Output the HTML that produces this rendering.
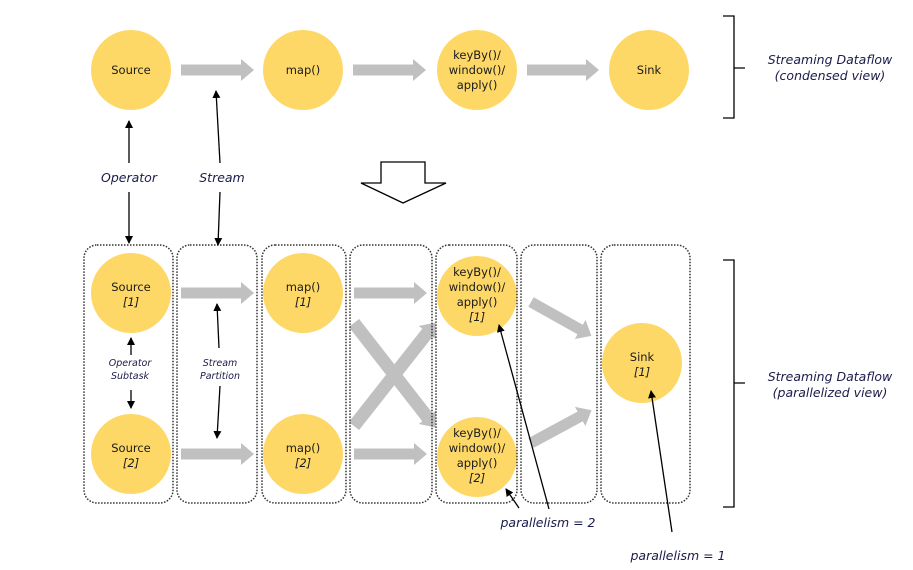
<!DOCTYPE html>
<html><head><meta charset="utf-8"><style>
html,body{margin:0;padding:0;background:#fff;}
svg{display:block;font-family:"DejaVu Sans","Liberation Sans",sans-serif;}
.n{font-size:11.5px;fill:#1a1a1a;text-anchor:middle;}
.i{font-style:italic;}
.l{font-size:12.5px;fill:#1b1b4a;font-style:italic;text-anchor:middle;}
.s{font-size:9.5px;fill:#1b1b4a;font-style:italic;text-anchor:middle;}
.box{fill:none;stroke:#333;stroke-width:1.5;stroke-dasharray:1.5 1.5;}
.g{stroke:#c0c0c0;stroke-width:11;fill:none;}
.k{stroke:#000;stroke-width:1.3;fill:none;}
</style></head><body>
<svg width="913" height="570" viewBox="0 0 913 570">
<defs>
<marker id="gh" markerUnits="userSpaceOnUse" markerWidth="14" markerHeight="22" refX="1" refY="11" orient="auto"><path d="M0,0 L13,11 L0,22 Z" fill="#c0c0c0"/></marker>
<marker id="bh" markerUnits="userSpaceOnUse" markerWidth="8" markerHeight="8" refX="7" refY="4" orient="auto"><path d="M0,0 L8,4 L0,8 Z" fill="#000"/></marker>
</defs>
<g fill="#fed866">
<circle cx="131" cy="70" r="40"/><circle cx="303" cy="70" r="40"/><circle cx="477" cy="70" r="40"/><circle cx="649" cy="70" r="40"/>
<circle cx="131" cy="293" r="40"/><circle cx="131" cy="454" r="40"/><circle cx="303" cy="293" r="40"/><circle cx="303" cy="454" r="40"/>
<circle cx="477" cy="296" r="40"/><circle cx="477" cy="457" r="40"/><circle cx="642" cy="363" r="40"/>
</g>
<!-- top arrows -->
<line class="g" x1="181" y1="70" x2="242" y2="70" marker-end="url(#gh)"/>
<line class="g" x1="353" y1="70" x2="414" y2="70" marker-end="url(#gh)"/>
<line class="g" x1="527" y1="70" x2="587" y2="70" marker-end="url(#gh)"/>
<!-- bottom arrows -->
<line class="g" x1="181" y1="293" x2="242" y2="293" marker-end="url(#gh)"/>
<line class="g" x1="181" y1="454" x2="242" y2="454" marker-end="url(#gh)"/>
<line class="g" x1="354" y1="293" x2="415" y2="293" marker-end="url(#gh)"/>
<line class="g" x1="354" y1="454" x2="415" y2="454" marker-end="url(#gh)"/>
<line class="g" style="stroke-width:13" x1="354" y1="323" x2="428" y2="418" marker-end="url(#gh)"/>
<line class="g" style="stroke-width:13" x1="354" y1="426" x2="428" y2="332" marker-end="url(#gh)"/>
<line class="g" x1="531" y1="302" x2="581" y2="330" marker-end="url(#gh)"/>
<line class="g" x1="531" y1="443" x2="581" y2="416" marker-end="url(#gh)"/>
<!-- boxes -->
<rect class="box" x="84" y="245" width="89" height="258" rx="13"/>
<rect class="box" x="177" y="245" width="80" height="258" rx="13"/>
<rect class="box" x="262" y="245" width="84" height="258" rx="13"/>
<rect class="box" x="350" y="245" width="82" height="258" rx="13"/>
<rect class="box" x="436" y="245" width="81" height="258" rx="13"/>
<rect class="box" x="521" y="245" width="76" height="258" rx="13"/>
<rect class="box" x="601" y="245" width="89" height="258" rx="13"/>
<!-- hollow arrow -->
<path d="M381,162 L425,162 L425,183 L446,183 L403,203 L361,183 L381,183 Z" fill="#fff" stroke="#000" stroke-width="1.3"/>
<!-- brackets -->
<path d="M723,16 L734,16 L734,118 L723,118 M734,68 L745,68" class="k"/>
<path d="M723,260 L734,260 L734,507 L723,507 M734,383 L745,383" class="k"/>
<!-- black arrows -->
<line class="k" x1="129" y1="163" x2="129" y2="121" marker-end="url(#bh)"/>
<line class="k" x1="129" y1="192" x2="129" y2="243" marker-end="url(#bh)"/>
<line class="k" x1="220" y1="163" x2="216" y2="91" marker-end="url(#bh)"/>
<line class="k" x1="220" y1="192" x2="218" y2="245" marker-end="url(#bh)"/>
<line class="k" x1="131" y1="355" x2="131" y2="338" marker-end="url(#bh)"/>
<line class="k" x1="131" y1="390" x2="131" y2="408" marker-end="url(#bh)"/>
<line class="k" x1="219" y1="348" x2="217" y2="304" marker-end="url(#bh)"/>
<line class="k" x1="220" y1="386" x2="217" y2="438" marker-end="url(#bh)"/>
<line class="k" x1="549" y1="509" x2="499" y2="325" marker-end="url(#bh)"/>
<line class="k" x1="519" y1="508" x2="506" y2="489" marker-end="url(#bh)"/>
<line class="k" x1="672" y1="532" x2="651" y2="391" marker-end="url(#bh)"/>
<!-- text -->
<text class="n" x="131" y="74">Source</text>
<text class="n" x="303" y="74">map()</text>
<text class="n" x="477" y="59">keyBy()/</text><text class="n" x="477" y="74">window()/</text><text class="n" x="477" y="89">apply()</text>
<text class="n" x="649" y="74">Sink</text>
<text class="n" x="131" y="291">Source</text><text class="n i" x="131" y="306">[1]</text>
<text class="n" x="131" y="452">Source</text><text class="n i" x="131" y="467">[2]</text>
<text class="n" x="303" y="291">map()</text><text class="n i" x="303" y="306">[1]</text>
<text class="n" x="303" y="452">map()</text><text class="n i" x="303" y="467">[2]</text>
<text class="n" x="477" y="276">keyBy()/</text><text class="n" x="477" y="291">window()/</text><text class="n" x="477" y="306">apply()</text><text class="n i" x="477" y="321">[1]</text>
<text class="n" x="477" y="437">keyBy()/</text><text class="n" x="477" y="452">window()/</text><text class="n" x="477" y="467">apply()</text><text class="n i" x="477" y="482">[2]</text>
<text class="n" x="642" y="361">Sink</text><text class="n i" x="642" y="376">[1]</text>
<text class="l" x="129" y="182">Operator</text>
<text class="l" x="222" y="182">Stream</text>
<text class="s" x="130" y="366">Operator</text><text class="s" x="130" y="379">Subtask</text>
<text class="s" x="220" y="366">Stream</text><text class="s" x="220" y="379">Partition</text>
<text class="l" x="830" y="64">Streaming Dataflow</text><text class="l" x="830" y="80">(condensed view)</text>
<text class="l" x="830" y="381">Streaming Dataflow</text><text class="l" x="830" y="397">(parallelized view)</text>
<text class="l" x="548" y="527">parallelism = 2</text>
<text class="l" x="678" y="560">parallelism = 1</text>
</svg>
</body></html>
